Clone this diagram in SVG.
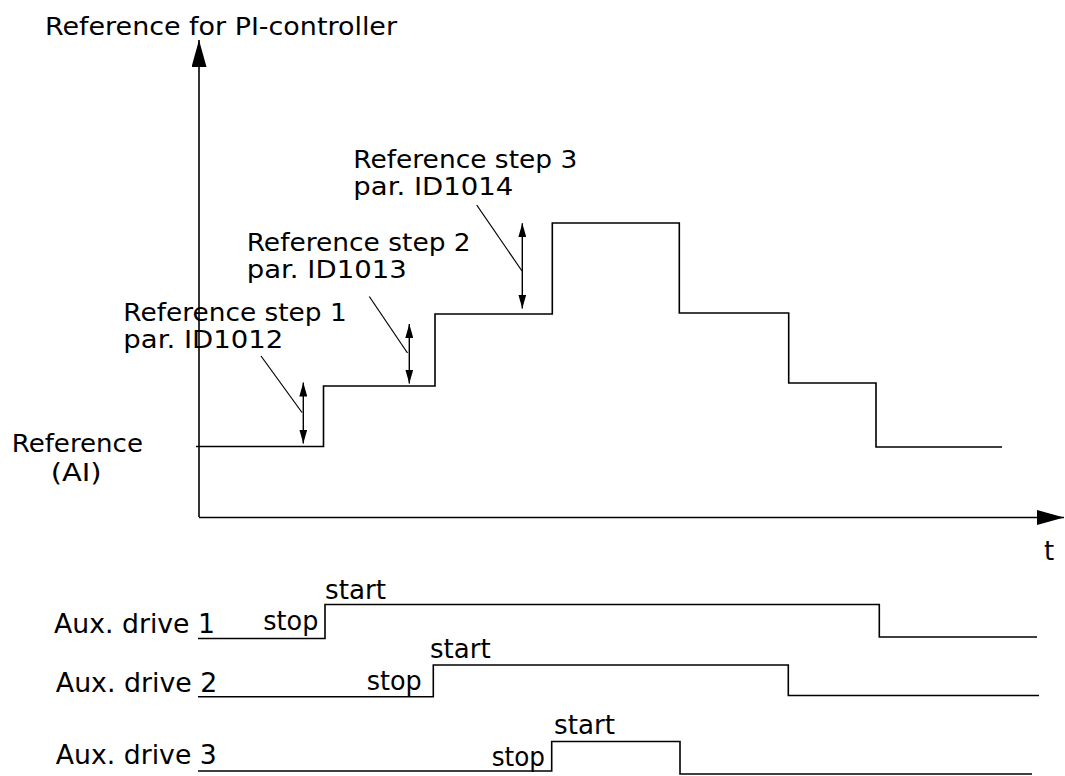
<svg xmlns="http://www.w3.org/2000/svg" width="1065" height="776" viewBox="0 0 1065 776">
  <style>
    .ln { fill: none; stroke: #000; stroke-width: 1.6; stroke-linejoin: miter; }
    .thin { fill: none; stroke: #000; stroke-width: 1.2; }
    .dbl { fill: none; stroke: #000; stroke-width: 1.4; marker-start: url(#tip); marker-end: url(#tip); }
    .ax { fill: none; stroke: #000; stroke-width: 1.6; marker-end: url(#axTip); }
    text { font-family: "DejaVu Sans", Verdana, "Liberation Sans", sans-serif; font-size: 26px; fill: #000; }
    .title { font-size: 25px; }
    .lbl { font-size: 24px; }
  </style>
  <defs>
    <marker id="tip" viewBox="0 0 14 8" refX="14" refY="4" markerWidth="14" markerHeight="8" markerUnits="userSpaceOnUse" orient="auto-start-reverse">
      <path d="M0,0 L14,4 L0,8 Z" fill="#000"/>
    </marker>
    <marker id="axTip" viewBox="0 0 27 15" refX="27" refY="7.5" markerWidth="27" markerHeight="15" markerUnits="userSpaceOnUse" orient="auto">
      <path d="M0,0 L27,7.5 L0,15 Z" fill="#000"/>
    </marker>
  </defs>

  <g id="axes">
    <line class="ax" x1="199" y1="517" x2="199" y2="40"/>
    <line class="ax" x1="199" y1="517.5" x2="1064" y2="517.5"/>
    <text id="y-axis-title" class="title" x="45" y="35" textLength="352" lengthAdjust="spacingAndGlyphs">Reference for PI-controller</text>
    <text id="x-axis-title" x="1044" y="560">t</text>
  </g>

  <g id="reference-curve">
    <path class="ln" d="M196,446.5 H323.5 V386 H435 V314 H552.3 V223 H679.3 V313 H788.7 V383 H876 V447 H1002"/>
    <text class="lbl"><tspan x="11.7" y="451.7" textLength="131.3" lengthAdjust="spacingAndGlyphs">Reference</tspan><tspan x="50.7" y="481" textLength="51" lengthAdjust="spacingAndGlyphs">(AI)</tspan></text>
  </g>

  <g id="connectors">
    <line class="thin" x1="261" y1="356" x2="302" y2="412.5"/>
    <line class="dbl" x1="303.3" y1="382.5" x2="303.3" y2="443.5"/>
    <line class="thin" x1="369.3" y1="296.5" x2="407.5" y2="353"/>
    <line class="dbl" x1="409.3" y1="324" x2="409.3" y2="383.5"/>
    <line class="thin" x1="476.7" y1="205" x2="522" y2="271"/>
    <line class="dbl" x1="522.3" y1="223.3" x2="522.3" y2="308.5"/>
  </g>

  <g id="step-1">
    <text class="lbl"><tspan x="123.3" y="321.2" textLength="223.4" lengthAdjust="spacingAndGlyphs">Reference step 1</tspan><tspan x="123.3" y="347.7" textLength="160" lengthAdjust="spacingAndGlyphs">par. ID1012</tspan></text>
  </g>
  <g id="step-2">
    <text class="lbl"><tspan x="246.7" y="251.2" textLength="224" lengthAdjust="spacingAndGlyphs">Reference step 2</tspan><tspan x="246.7" y="277.7" textLength="160" lengthAdjust="spacingAndGlyphs">par. ID1013</tspan></text>
  </g>
  <g id="step-3">
    <text class="lbl"><tspan x="353.3" y="168.3" textLength="224" lengthAdjust="spacingAndGlyphs">Reference step 3</tspan><tspan x="353.3" y="195" textLength="160" lengthAdjust="spacingAndGlyphs">par. ID1014</tspan></text>
  </g>

  <g id="aux-drive-1">
    <path class="ln" d="M198,638.5 H325 V604.5 H879.3 V637 H1037"/>
    <text x="54" y="633" textLength="161" lengthAdjust="spacingAndGlyphs">Aux. drive 1</text>
    <text x="263.3" y="629.5" textLength="55" lengthAdjust="spacingAndGlyphs">stop</text>
    <text x="325" y="599.3" textLength="61" lengthAdjust="spacingAndGlyphs">start</text>
  </g>
  <g id="aux-drive-2">
    <path class="ln" d="M198,696.7 H433.3 V665 H788.3 V695.5 H1039"/>
    <text x="55.8" y="691.7" textLength="161.6" lengthAdjust="spacingAndGlyphs">Aux. drive 2</text>
    <text x="366.7" y="690" textLength="55" lengthAdjust="spacingAndGlyphs">stop</text>
    <text x="430" y="658.3" textLength="60.7" lengthAdjust="spacingAndGlyphs">start</text>
  </g>
  <g id="aux-drive-3">
    <path class="ln" d="M198,771 H551.7 V741.5 H680 V774 H1032"/>
    <text x="55.8" y="764.3" textLength="161" lengthAdjust="spacingAndGlyphs">Aux. drive 3</text>
    <text x="491.7" y="766" textLength="53.3" lengthAdjust="spacingAndGlyphs">stop</text>
    <text x="554" y="734.3" textLength="61" lengthAdjust="spacingAndGlyphs">start</text>
  </g>
</svg>
